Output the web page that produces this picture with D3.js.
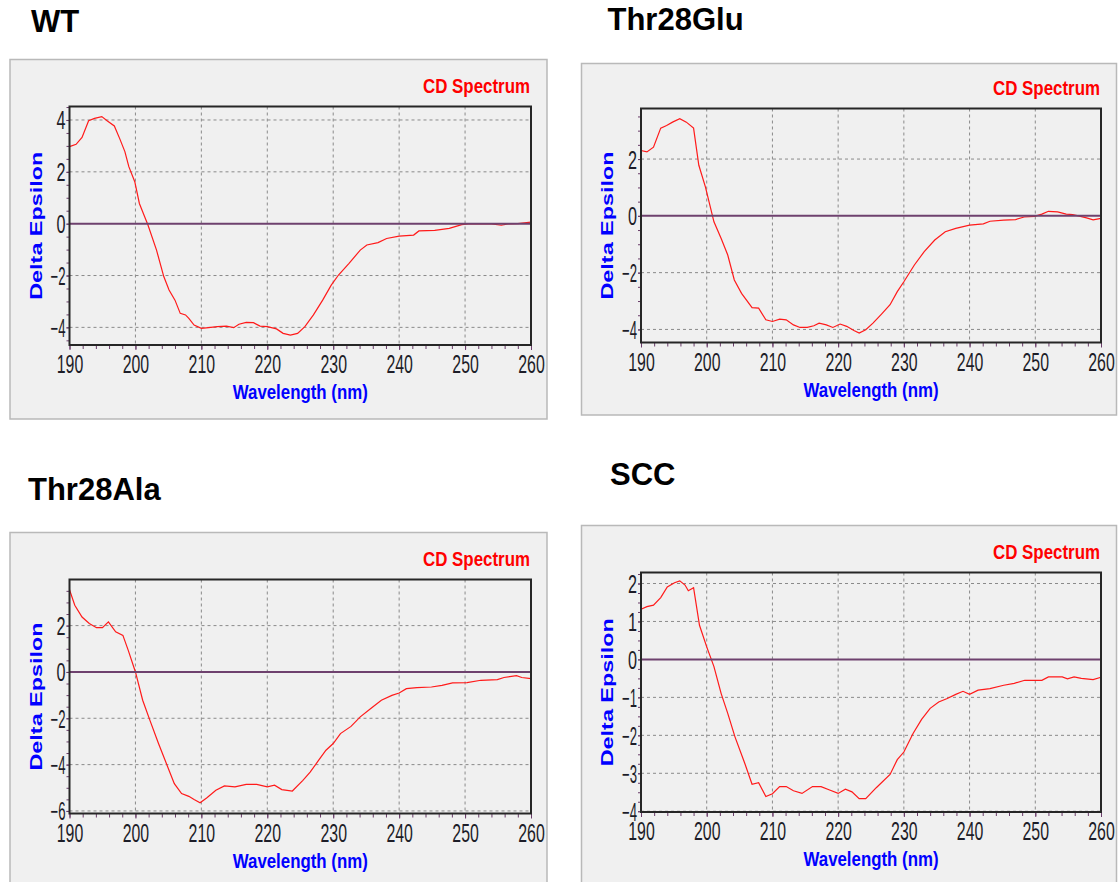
<!DOCTYPE html>
<html>
<head>
<meta charset="utf-8">
<script src="https://cdn.jsdelivr.net/npm/d3@7"></script>
<style>
  body { margin: 0; background: #fff; }
  svg { display: block; }
  text { font-family: "Liberation Sans", Arial, sans-serif; }
</style>
</head>
<body>
<div class="canvas"></div>
<script>
const dims = { width: 1119, height: 882 };

// wavelength (nm) / delta epsilon pairs
const wtNm = [190, 191, 191.9, 192.9, 193.8, 194.9, 195.7, 196.8, 197.6, 198.4, 199, 199.9, 200.6, 201.4, 201.9, 203.2, 204.3, 205.1, 206, 206.8, 207.6, 208.1, 208.9, 210, 211.1, 212.4, 213.8, 214.9, 215.7, 216.8, 217.9, 218.9, 220, 221.4, 222.4, 223.5, 224.6, 225.7, 227, 228.4, 229.7, 230.8, 232.4, 234.1, 235.1, 236.8, 238.1, 240, 242.2, 243, 245.4, 247.6, 249.5, 250.5, 252, 254, 255.5, 256.5, 258, 260];
const wtDE = [2.97, 3.06, 3.33, 3.97, 4.06, 4.13, 3.97, 3.77, 3.29, 2.78, 2.2, 1.62, 0.78, 0.27, -0.05, -1.02, -2.04, -2.56, -2.95, -3.46, -3.52, -3.65, -3.91, -4.04, -4.01, -3.97, -3.95, -4.01, -3.88, -3.81, -3.82, -3.95, -3.97, -4.06, -4.23, -4.3, -4.23, -3.97, -3.52, -2.95, -2.37, -1.98, -1.53, -1.02, -0.82, -0.73, -0.57, -0.48, -0.44, -0.28, -0.26, -0.18, -0.04, -0.01, 0, -0.01, -0.06, -0.01, 0, 0.06];

const gluNm = [190, 190.9, 191.9, 193, 193.9, 194.8, 195.9, 196.9, 198, 198.8, 199.8, 200.6, 201.1, 202.2, 203.2, 204.2, 205.3, 206.9, 207.9, 209, 210, 211.1, 212.1, 213.2, 214.2, 215.3, 216.3, 217.1, 218.2, 219.2, 220.3, 221.3, 222.4, 223.2, 224.2, 225.3, 226.6, 227.9, 229, 230, 231.6, 233.1, 234.7, 236.3, 237.9, 240, 242.1, 243.1, 245.2, 247, 248.3, 249.9, 251, 252, 253.4, 254.7, 255.7, 256.7, 257.8, 258.8, 260];
const gluDE = [2.3, 2.25, 2.42, 3.09, 3.18, 3.3, 3.42, 3.3, 3.09, 1.78, 1.02, 0.26, -0.21, -0.8, -1.38, -2.26, -2.73, -3.23, -3.25, -3.66, -3.72, -3.64, -3.66, -3.84, -3.93, -3.93, -3.87, -3.78, -3.84, -3.93, -3.81, -3.89, -4.04, -4.13, -4.01, -3.78, -3.46, -3.13, -2.67, -2.32, -1.73, -1.26, -0.85, -0.56, -0.44, -0.33, -0.28, -0.19, -0.15, -0.13, -0.04, -0.02, 0.06, 0.16, 0.14, 0.06, 0.04, -0.01, -0.07, -0.14, -0.09];

const alaNm = [190, 190.8, 191.9, 193, 194.1, 195, 195.9, 197, 198.1, 198.9, 200, 201.1, 202.2, 203.5, 204.9, 205.9, 207, 208.1, 208.9, 209.8, 210.8, 212.2, 213.5, 215.1, 216.8, 218.4, 220, 221.1, 222.2, 223.8, 225.4, 226.5, 227.8, 228.9, 230, 231.1, 232.7, 234.1, 235.7, 237.3, 238.9, 240, 241.1, 242.7, 244.9, 246.5, 248.1, 250.3, 252.4, 254.9, 255.9, 257.8, 258.6, 260];
const alaDE = [3.55, 2.88, 2.37, 2.09, 1.91, 1.91, 2.16, 1.73, 1.58, 0.94, 0, -1.22, -2.09, -3.09, -4.1, -4.82, -5.25, -5.37, -5.51, -5.65, -5.44, -5.11, -4.92, -4.96, -4.85, -4.85, -4.96, -4.89, -5.08, -5.14, -4.68, -4.32, -3.81, -3.38, -3.09, -2.66, -2.35, -1.94, -1.58, -1.22, -1.01, -0.91, -0.72, -0.68, -0.65, -0.58, -0.47, -0.46, -0.36, -0.33, -0.24, -0.16, -0.24, -0.29];

const sccNm = [190, 190.9, 191.9, 193, 194, 195.1, 195.9, 196.7, 197.2, 198, 198.9, 200, 201.1, 202.2, 203.2, 204.3, 205.8, 206.9, 207.9, 209, 210, 211.1, 212.1, 213.2, 214.5, 216.1, 217.4, 218.7, 220, 221.1, 222.1, 223.2, 224.2, 225.8, 227.9, 229, 230, 231.4, 232.7, 234, 235.3, 236.6, 237.9, 239, 240, 241.3, 243.1, 245.2, 246.8, 248.4, 251, 252, 254.1, 254.9, 255.9, 257, 258.8, 260];
const sccDE = [1.32, 1.39, 1.43, 1.63, 1.91, 2.02, 2.07, 1.96, 1.81, 1.89, 0.9, 0.33, -0.19, -0.9, -1.42, -2.04, -2.74, -3.29, -3.25, -3.61, -3.54, -3.35, -3.35, -3.46, -3.53, -3.35, -3.35, -3.44, -3.53, -3.42, -3.49, -3.67, -3.67, -3.38, -3.03, -2.64, -2.44, -1.95, -1.58, -1.29, -1.12, -1.03, -0.92, -0.84, -0.92, -0.81, -0.77, -0.68, -0.63, -0.55, -0.55, -0.46, -0.46, -0.51, -0.46, -0.5, -0.53, -0.47];

// tick labels
const xTicks = [190, 200, 210, 220, 230, 240, 250, 260];
const yTicksWT = [-4, -2, 0, 2, 4];
const yTicksGlu = [-4, -2, 0, 2];
const yTicksAla = [-6, -4, -2, 0, 2];
const yTicksSCC = [-4, -3, -2, -1, 0, 1, 2];

const titles = ["WT", "Thr28Glu", "Thr28Ala", "SCC"];

// layout of the four screenshots (plot = [left, top, right, bottom])
const panels = [
  { nm: wtNm, de: wtDE, yTicks: yTicksWT, yDomain: [-4.68, 4.52], minor: 0.5,
    box: [10, 59.5, 537, 359.5], plot: [69.5, 106.5, 531, 345], head: [31, 31.5] },
  { nm: gluNm, de: gluDE, yTicks: yTicksGlu, yDomain: [-4.46, 3.78], minor: 0.5,
    box: [581.5, 63.5, 535, 351.5], plot: [641, 108.5, 1101, 342.5], head: [607.5, 29.5] },
  { nm: alaNm, de: alaDE, yTicks: yTicksAla, yDomain: [-6.11, 3.99], minor: 0.5,
    box: [10, 532.5, 537, 360], plot: [69.5, 579.5, 531, 813.5], head: [28, 500] },
  { nm: sccNm, de: sccDE, yTicks: yTicksSCC, yDomain: [-4.02, 2.29], minor: 0.25,
    box: [581.5, 525.5, 535, 360], plot: [641, 572.5, 1101, 812], head: [610, 485] },
];

const svg = d3
  .select(".canvas")
  .append("svg")
  .attr("width", dims.width)
  .attr("height", dims.height);

const tickColor = "#6a3d6a";

// squeeze text to the measured width
const squeeze = (sel, w) =>
  sel.attr("textLength", w).attr("lengthAdjust", "spacingAndGlyphs");

const labelWidth = (v) => String(Math.abs(v)).length * 9 + (v < 0 ? 6 : 0);

panels.forEach((p, i) => {
  const [l, t, r, b] = p.plot;
  const x = d3.scaleLinear().domain([190, 260]).range([l, r]);
  const y = d3.scaleLinear().domain(p.yDomain).range([b, t]);
  const g = svg.append("g");

  //heading
  g.append("text")
    .attr("x", p.head[0])
    .attr("y", p.head[1])
    .attr("font-size", 31)
    .attr("font-weight", "bold")
    .attr("fill", "#000")
    .text(titles[i]);

  //grey window
  g.append("rect")
    .attr("x", p.box[0])
    .attr("y", p.box[1])
    .attr("width", p.box[2])
    .attr("height", p.box[3])
    .attr("fill", "#f0f0f0")
    .attr("stroke", "#b9b9b9")
    .attr("stroke-width", 1.5);

  //dashed grid
  g.selectAll(".vgrid")
    .data(xTicks.slice(1, -1))
    .enter()
    .append("line")
    .attr("x1", (d) => x(d))
    .attr("x2", (d) => x(d))
    .attr("y1", t)
    .attr("y2", b)
    .attr("stroke", "#8a8a8a")
    .attr("stroke-dasharray", "3,3");

  g.selectAll(".hgrid")
    .data(p.yTicks.filter((d) => d !== 0))
    .enter()
    .append("line")
    .attr("x1", l)
    .attr("x2", r)
    .attr("y1", (d) => y(d))
    .attr("y2", (d) => y(d))
    .attr("stroke", "#8a8a8a")
    .attr("stroke-dasharray", "3,3");

  //minor ticks
  const yMinor = d3.range(Math.ceil(p.yDomain[0] / p.minor) * p.minor, p.yDomain[1], p.minor);
  g.append("g")
    .attr("transform", `translate(0,${b})`)
    .attr("color", tickColor)
    .call(d3.axisBottom(x).tickValues(d3.range(190, 261, 2)).tickSize(4).tickFormat(""))
    .call((a) => a.select(".domain").remove());
  g.append("g")
    .attr("transform", `translate(${l},0)`)
    .attr("color", tickColor)
    .call(d3.axisLeft(y).tickValues(yMinor).tickSize(3).tickFormat(""))
    .call((a) => a.select(".domain").remove());

  //x axis labels
  const xAxis = g
    .append("g")
    .attr("transform", `translate(0,${b})`)
    .attr("color", tickColor)
    .call(d3.axisBottom(x).tickValues(xTicks).tickSize(5).tickFormat(d3.format("d")));
  xAxis.select(".domain").remove();
  xAxis
    .selectAll("text")
    .attr("y", 28)
    .attr("dy", null)
    .attr("font-size", 25)
    .attr("fill", "#1d1d28")
    .call(squeeze, 26.5);

  //y axis labels
  const yAxis = g
    .append("g")
    .attr("transform", `translate(${l},0)`)
    .attr("color", tickColor)
    .call(d3.axisLeft(y).tickValues(p.yTicks).tickSize(3).tickPadding(2).tickFormat(d3.format("d")));
  yAxis.select(".domain").remove();
  yAxis
    .selectAll("text")
    .attr("x", -4)
    .attr("dy", "0.36em")
    .attr("font-size", 25)
    .attr("fill", "#1d1d28")
    .each(function (d) {
      squeeze(d3.select(this), labelWidth(d));
    });

  //spectrum
  const line = d3
    .line()
    .x((d) => x(d[0]))
    .y((d) => y(d[1]));
  g.append("path")
    .datum(d3.zip(p.nm, p.de))
    .attr("d", line)
    .attr("fill", "none")
    .attr("stroke", "#ff1a1a")
    .attr("stroke-width", 1.2);

  //zero line
  g.append("line")
    .attr("x1", l)
    .attr("x2", r)
    .attr("y1", y(0))
    .attr("y2", y(0))
    .attr("stroke", "#6e416e")
    .attr("stroke-width", 2);

  //plot frame
  g.append("rect")
    .attr("x", l)
    .attr("y", t)
    .attr("width", r - l)
    .attr("height", b - t)
    .attr("fill", "none")
    .attr("stroke", "#262626")
    .attr("stroke-width", 2);

  //titles
  g.append("text")
    .attr("x", r - 1)
    .attr("y", t - 14)
    .attr("text-anchor", "end")
    .attr("font-size", 20)
    .attr("font-weight", "bold")
    .attr("fill", "#ff0000")
    .text("CD Spectrum")
    .call(squeeze, 107);

  g.append("text")
    .attr("x", (l + r) / 2)
    .attr("y", b + 54)
    .attr("text-anchor", "middle")
    .attr("font-size", 21)
    .attr("font-weight", "bold")
    .attr("fill", "#0000ff")
    .text("Wavelength (nm)")
    .call(squeeze, 135);

  g.append("text")
    .attr("transform", `translate(${l - 28},${(t + b) / 2}) rotate(-90)`)
    .attr("text-anchor", "middle")
    .attr("font-size", 17)
    .attr("font-weight", "bold")
    .attr("fill", "#0000ff")
    .text("Delta Epsilon")
    .call(squeeze, 148);
});
</script>
</body>
</html>
